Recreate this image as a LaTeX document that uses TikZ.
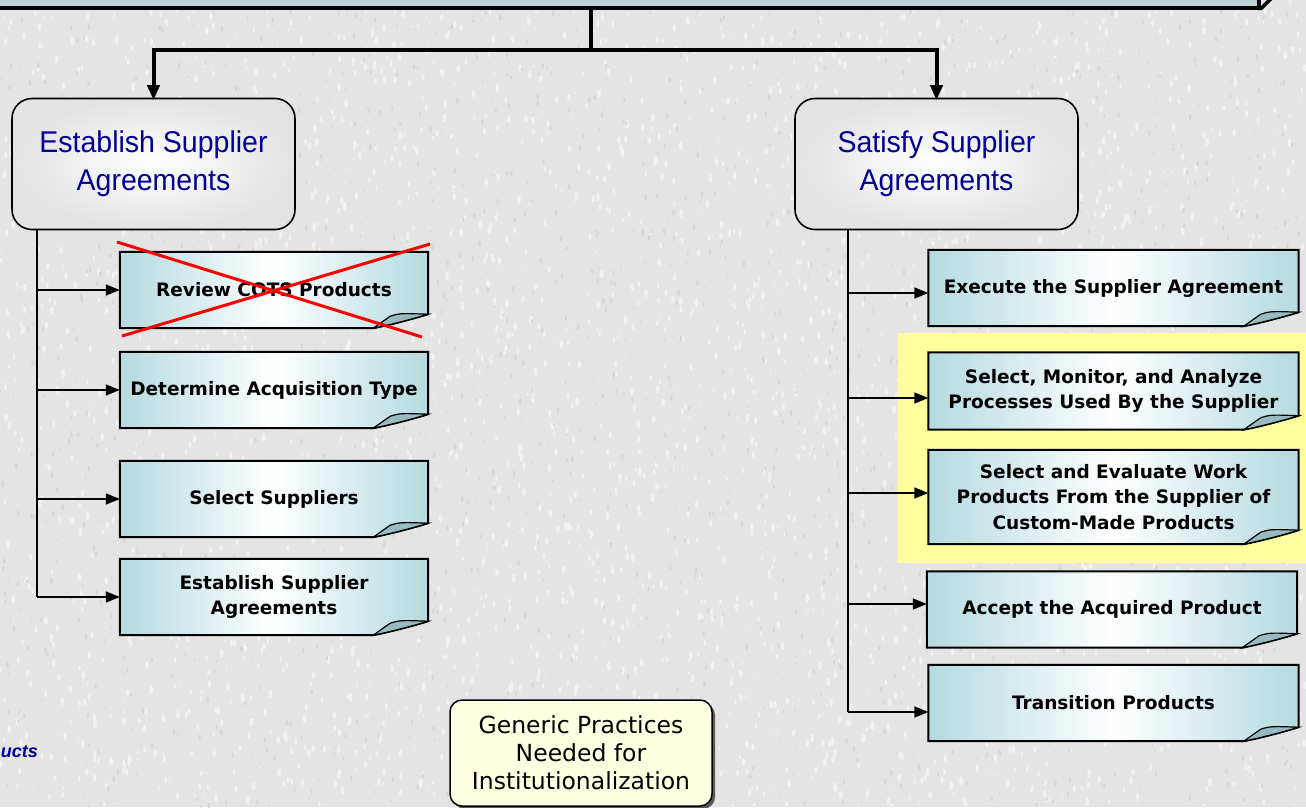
\documentclass[tikz,border=0pt]{standalone}
\usepackage{fontspec}
\setmainfont{DejaVu Sans}
\newfontfamily\headfont[FakeStretch=0.95]{Liberation Sans}
\newfontfamily\arialfont{Liberation Sans}
\usetikzlibrary{arrows.meta,shadows}

\definecolor{bgc}{RGB}{228,228,228}
\definecolor{specka}{RGB}{241,241,241}
\definecolor{speckb}{RGB}{214,214,214}
\definecolor{topc}{RGB}{188,208,218}
\definecolor{notec}{RGB}{180,218,223}
\definecolor{curlc}{RGB}{150,188,194}
\definecolor{headc}{RGB}{0,0,150}
\definecolor{hlc}{RGB}{255,255,160}
\definecolor{gpc}{RGB}{255,255,225}

\pgfdeclarelayer{bgzero}
\pgfdeclarelayer{bgone}
\pgfsetlayers{bgzero,bgone,main}

% folded paper behind a note node
\newcommand\notepaper[1]{%
  \path[draw=black, line width=2pt, left color=notec, right color=notec, middle color=white]
    (#1.north west) -- (#1.north east) -- ([yshift=14pt]#1.south east)
    .. controls ([xshift=-20pt,yshift=8pt]#1.south east) and ([xshift=-40pt,yshift=3pt]#1.south east) ..
    ([xshift=-55pt]#1.south east) -- (#1.south west) -- cycle;
  \path[draw=black, line width=1.2pt, fill=curlc]
    ([xshift=-55pt]#1.south east) -- ([xshift=-38pt,yshift=12pt]#1.south east)
    .. controls ([xshift=-28pt,yshift=15pt]#1.south east) .. ([yshift=14pt]#1.south east)
    .. controls ([xshift=-20pt,yshift=8pt]#1.south east) and ([xshift=-40pt,yshift=3pt]#1.south east) ..
    ([xshift=-55pt]#1.south east) -- cycle;
}

\begin{document}
\begin{tikzpicture}[x=1pt,y=-1pt,
  head/.style={draw, line width=1.6pt, rounded corners=20pt, inner color=white, outer color=gray!22,
    minimum width=283pt, minimum height=131pt, inner sep=0, align=center,
    font=\headfont\fontsize{30}{38}\selectfont, text=headc},
  notebox/.style={inner sep=0, align=center, font=\bfseries\fontsize{18.5}{25.5}\selectfont},
  leftnote/.style={notebox, minimum width=308pt, minimum height=76pt},
  rightnote/.style={notebox, minimum width=370pt, minimum height=76pt},
  trunk/.style={line width=4pt},
  bigarrow/.style={trunk, -{Triangle[length=15pt,width=12pt]}},
  branch/.style={line width=1.6pt, -{Triangle[length=14pt,width=11pt]}},
  cross/.style={red, line width=3pt},
  gpbox/.style={draw, line width=1.5pt, rounded corners=12pt, fill=gpc, minimum width=262pt,
    minimum height=106pt, inner sep=0, align=center, font=\fontsize{23.5}{28}\selectfont,
    drop shadow={shadow xshift=3pt, shadow yshift=-3pt, fill=black!65, opacity=1}}
]
\useasboundingbox (0,0) rectangle (1306,807);
\begin{pgfonlayer}{bgzero}
  \fill[bgc] (0,0) rectangle (1306,807);
  % stucco speckle
  \pgfmathsetseed{4711}
  \foreach \i in {1,...,3200} {
    \pgfmathsetmacro\sx{1306*rnd}
    \pgfmathsetmacro\sy{807*rnd}
    \pgfmathsetmacro\sw{1.5+3*rnd}
    \fill[specka] (\sx,\sy) ellipse ({\sw*0.45} and \sw);
  }
  \foreach \i in {1,...,2000} {
    \pgfmathsetmacro\sx{1306*rnd}
    \pgfmathsetmacro\sy{807*rnd}
    \pgfmathsetmacro\sw{1+2*rnd}
    \fill[speckb] (\sx,\sy) ellipse ({\sw*0.45} and \sw);
  }
  \fill[hlc] (898,333) rectangle (1306,563);
\end{pgfonlayer}

% banner at the top, with its lower and right edges outlined
\node[fill=topc, minimum width=1300pt, minimum height=40pt,
      inner sep=0, outer sep=0, anchor=south east] (top) at (1259,8) {};
\draw[line width=3.5pt] (top.south west) -- (top.south east) -- (top.north east);
\fill (top.south east) ++(-2,2) -- ++(5,0) -- ++(10,-10) -- ++(-5,0) -- cycle;

% the two goals
\node[head] (h1) at (153.5,164) {Establish Supplier\\Agreements};
\node[head] (h2) at (936.5,164) {Satisfy Supplier\\Agreements};

% practices of the first goal
\node[leftnote] (n1) at (274,290) {Review COTS Products};
\node[leftnote] (n2) at (274,390) {Determine Acquisition Type};
\node[leftnote] (n3) at (274,499) {Select Suppliers};
\node[leftnote] (n4) at (274,597) {Establish Supplier\\Agreements};

% practices of the second goal
\node[rightnote] (r1) at (1113.5,288) {Execute the Supplier Agreement};
\node[rightnote, minimum height=77pt] (r2) at (1113.5,391) {Select, Monitor, and Analyze\\Processes Used By the Supplier};
\node[rightnote, minimum height=94pt] (r3) at (1113.5,497) {Select and Evaluate Work\\Products From the Supplier of\\Custom-Made Products};
\node[rightnote] (r4) at (1112,609.5) {Accept the Acquired Product};
\node[rightnote] (r5) at (1113.5,703) {Transition Products};

\begin{pgfonlayer}{bgone}
  \notepaper{n1}\notepaper{n2}\notepaper{n3}\notepaper{n4}
  \notepaper{r1}\notepaper{r2}\notepaper{r3}\notepaper{r4}\notepaper{r5}
\end{pgfonlayer}

% tree connectors
\coordinate (j) at (591,50);
\coordinate (lb) at (37,0);
\coordinate (rb) at (848,0);
\draw[trunk] (top.south -| j) -- (j);
\draw[bigarrow] (j) -| ([yshift=-2.5pt]h1.north);
\draw[bigarrow] (j) -| ([yshift=-2.5pt]h2.north);

\draw[line width=2.4pt] (h1.south -| lb) -- (n4.west -| lb);
\foreach \n in {n1,n2,n3,n4}
  \draw[branch] (\n.west -| lb) -- (\n.west);

\draw[line width=2.8pt] (h2.south -| rb) -- ([yshift=-9pt]r5.west -| rb);
\draw[branch] ([yshift=-5pt]r1.west -| rb) -- ([yshift=-5pt]r1.west);
\draw[branch] ([yshift=-7pt]r2.west -| rb) -- ([yshift=-7pt]r2.west);
\draw[branch] ([yshift=4pt]r3.west -| rb) -- ([yshift=4pt]r3.west);
\draw[branch] ([yshift=5.5pt]r4.west -| rb) -- ([yshift=5.5pt]r4.west);
\draw[branch] ([yshift=-9pt]r5.west -| rb) -- ([yshift=-9pt]r5.west);

% struck-out practice
\draw[cross] (117,242) -- (422,337);
\draw[cross] (430,244) -- (122,336);

% generic practices box and trailing label
\node[gpbox] (gp) at (581,753) {Generic Practices\\Needed for\\Institutionalization};
\node[anchor=base east, inner sep=0, text=headc,
      font=\arialfont\bfseries\itshape\fontsize{18}{20}\selectfont] (uc) at (38,757) {ucts};
\end{tikzpicture}
\end{document}
